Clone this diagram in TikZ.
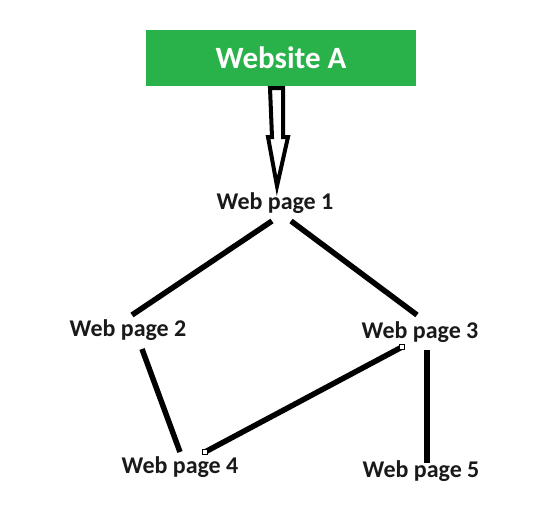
\documentclass[tikz,border=0pt]{standalone}
\usepackage{fontspec}
\setmainfont{Carlito}
\begin{document}
\begin{tikzpicture}[x=1pt,y=-1pt,
  page/.style={font=\bfseries\fontsize{24}{26}\selectfont, text=black!90, inner sep=0pt},
  link/.style={line width=5.5pt, black},
  handle/.style={draw=black, fill=white, line width=0.6pt, minimum size=4.5pt, inner sep=0pt}]
  \useasboundingbox (0,0) rectangle (545,511);
  \definecolor{siteGreen}{RGB}{42,178,74}

  % site header
  \node[fill=siteGreen, minimum width=270pt, minimum height=56pt, inner sep=0pt,
        text=white, font=\bfseries\fontsize{31}{34}\selectfont] (site) at (281,58)
        {\raisebox{-4pt}{Website A}};

  % pages
  \node[page] (p1) at (275,203) {Web page 1};
  \node[page] (p2) at (128,330) {Web page 2};
  \node[page] (p3) at (420,332) {Web page 3};
  \node[page] (p4) at (180,467) {Web page 4};
  \node[page] (p5) at (421,471) {Web page 5};

  % hollow block arrow from the site to page 1
  \draw[line width=4pt, fill=white, line join=miter]
    (270,88) -- (283,88) -- (283,137) -- (288,137) -- (277,186)
    -- (268,137) -- (272,137) -- cycle;

  % connector ends
  \coordinate (e12a) at (272,221);  \coordinate (e12b) at (132,315);
  \coordinate (e13a) at (291,221);  \coordinate (e13b) at (417,315);
  \coordinate (e24a) at (142,349);  \coordinate (e24b) at (180,452);
  \coordinate (e34a) at (402,347);  \coordinate (e34b) at (205,452);
  \coordinate (e35a) at (427,350);  \coordinate (e35b) at (427,463);

  \draw[link] (e12a) -- (e12b);
  \draw[link] (e13a) -- (e13b);
  \draw[link] (e24a) -- (e24b);
  \draw[link] (e34a) -- (e34b);
  \draw[link] (e35a) -- (e35b);

  % selection handles on the page 3 -- page 4 link
  \node[handle] (h3) at (e34a) {};
  \node[handle] (h4) at (e34b) {};
\end{tikzpicture}
\end{document}
